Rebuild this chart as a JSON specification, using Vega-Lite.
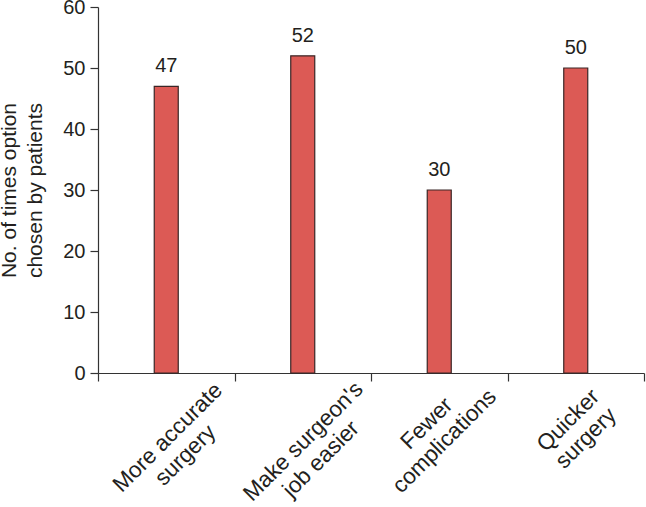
{
  "$schema": "https://vega.github.io/schema/vega-lite/v6.json",
  "width": 546,
  "height": 366,
  "autosize": "none",
  "padding": {"left": 98, "top": 7, "right": 2, "bottom": 134},
  "background": "white",
  "config": {
    "view": {"stroke": null},
    "font": "Liberation Sans",
    "axis": {"domainColor": "#333333", "tickColor": "#333333", "labelColor": "#231f20", "titleColor": "#231f20", "grid": false, "labelFont": "Liberation Sans", "titleFont": "Liberation Sans", "titleFontWeight": "normal", "domainWidth": 1.2, "tickWidth": 1.2}
  },
  "data": {
    "values": [
      {"option": "More accurate surgery", "count": 47},
      {"option": "Make surgeon's job easier", "count": 52},
      {"option": "Fewer complications", "count": 30},
      {"option": "Quicker surgery", "count": 50}
    ]
  },
  "encoding": {
    "x": {
      "field": "option",
      "type": "nominal",
      "sort": null,
      "scale": {"paddingInner": 0, "paddingOuter": 0},
      "axis": {
        "title": null,
        "tickBand": "extent",
        "tickSize": 8,
        "labelAngle": -45,
        "labelAlign": "center",
        "labelBaseline": "middle",
        "labelFontSize": 22.5,
        "labelPadding": {"condition": [
          {"test": "datum.value == 'More accurate surgery'", "value": 56},
          {"test": "datum.value == 'Fewer complications'", "value": 42},
          {"test": "datum.value == 'Quicker surgery'", "value": 39}
        ], "value": 60},
        "labelOffset": {"condition": [
          {"test": "datum.value == 'More accurate surgery'", "value": 1},
          {"test": "datum.value == 'Fewer complications'", "value": -13},
          {"test": "datum.value == 'Quicker surgery'", "value": -8}
        ], "value": 0},
        "labelLineHeight": 25,
        "labelExpr": "datum.value == 'More accurate surgery' ? ['More accurate', 'surgery'] : datum.value == \"Make surgeon's job easier\" ? [\"Make surgeon's\", 'job easier'] : datum.value == 'Fewer complications' ? ['Fewer', 'complications'] : datum.value == 'Quicker surgery' ? ['Quicker', 'surgery'] : ''"
      }
    },
    "y": {
      "field": "count",
      "type": "quantitative",
      "scale": {"domain": [0, 60], "nice": false},
      "axis": {
        "values": [0, 10, 20, 30, 40, 50, 60],
        "tickSize": 8,
        "labelFontSize": 20,
        "labelPadding": 5,
        "title": ["No. of times option", "chosen by patients"],
        "titleFontSize": 21,
        "titleLineHeight": 26,
        "titlePadding": 17
      }
    }
  },
  "layer": [
    {"mark": {"type": "bar", "size": 24, "color": "#dc5a55", "stroke": "#3a2626", "strokeWidth": 1.2}},
    {"mark": {"type": "text", "dy": -20, "fontSize": 20, "color": "#231f20", "font": "Liberation Sans"}, "encoding": {"text": {"field": "count", "type": "quantitative"}}}
  ]
}
